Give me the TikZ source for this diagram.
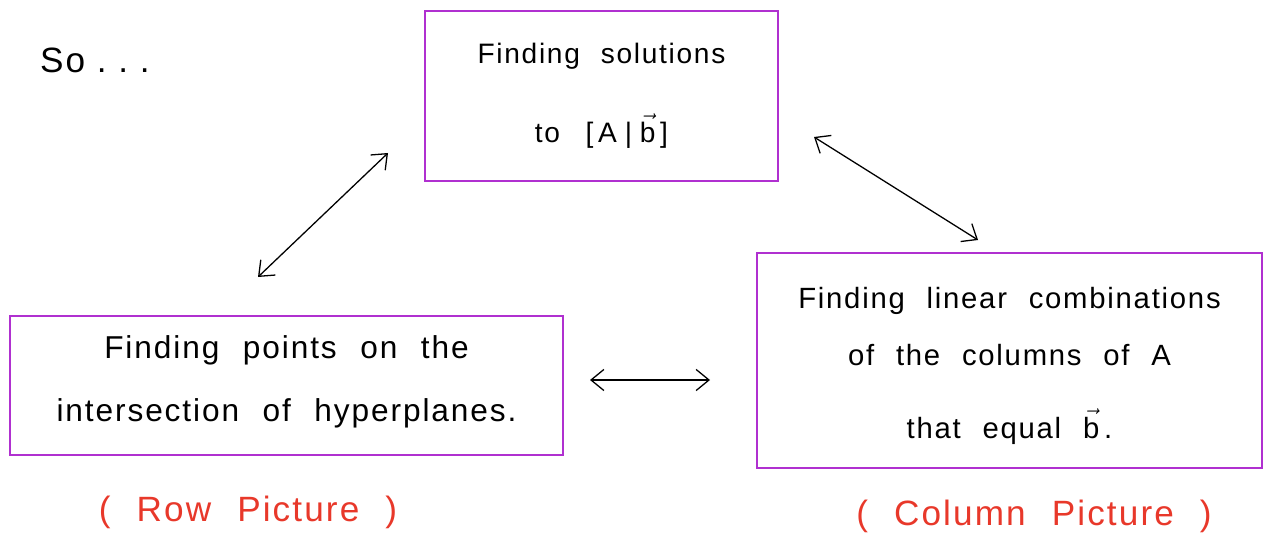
\documentclass[tikz,border=0pt]{standalone}
\usepackage{fontspec}
\setmainfont{Liberation Sans}[LetterSpace=6,WordSpace=2.2]
\usetikzlibrary{arrows.meta}
\definecolor{boxpurple}{HTML}{B030D0}
\definecolor{labelred}{HTML}{E8382A}
\tikzset{
  box/.style={draw=boxpurple, line width=1.4pt, align=center, inner sep=0pt},
  link/.style={{Straight Barb[length=11pt,width=18pt]}-{Straight Barb[length=11pt,width=18pt]}, line width=1.1pt, black},
  redlabel/.style={text=labelred, font=\fontsize{30}{36}\selectfont},
}
\newcommand{\vb}{\ensuremath{\vec{\mbox{b}}}}
\begin{document}
\begin{tikzpicture}[x=0.03cm,y=-0.03cm]
\useasboundingbox (0,0) rectangle (1263,541);
\node[font=\fontsize{30}{36}\selectfont, anchor=west] (so) at (36,60) {So\,\,.\,\,.\,\,.};
\node[box, font=\fontsize{24}{56}\selectfont, minimum width=10.59cm, minimum height=5.1cm] (top) at (601.5,96)
  {Finding solutions\\[0.4cm] to \,[\,A\;|\;\vb\,]};
\node[box, font=\fontsize{27}{54}\selectfont, minimum width=16.59cm, minimum height=4.17cm] (row) at (286.5,385.5)
  {Finding points on the\\ intersection of hyperplanes.\rule[-0.4cm]{0pt}{0pt}};
\node[box, font=\fontsize{25}{48.5}\selectfont, minimum width=15.15cm, minimum height=6.45cm] (col) at (1009.5,360.5)
  {\rule{0pt}{0.95cm}Finding linear combinations\\ of the columns of A\\[0.48cm] that equal \vb\,.};
\node[redlabel] (rowlab) at (248,512) {( Row Picture )};
\node[redlabel] (collab) at (1034,516) {( Column Picture )};
\coordinate (a1) at (258,277);
\coordinate (a2) at (388,153);
\coordinate (b1) at (814,137);
\coordinate (b2) at (978,240);
\coordinate (c1) at (590,380);
\coordinate (c2) at (710,380);
\draw[link] (a1) -- (a2);
\draw[link] (b1) -- (b2);
\draw[link] (c1) -- (c2);
\end{tikzpicture}
\end{document}
